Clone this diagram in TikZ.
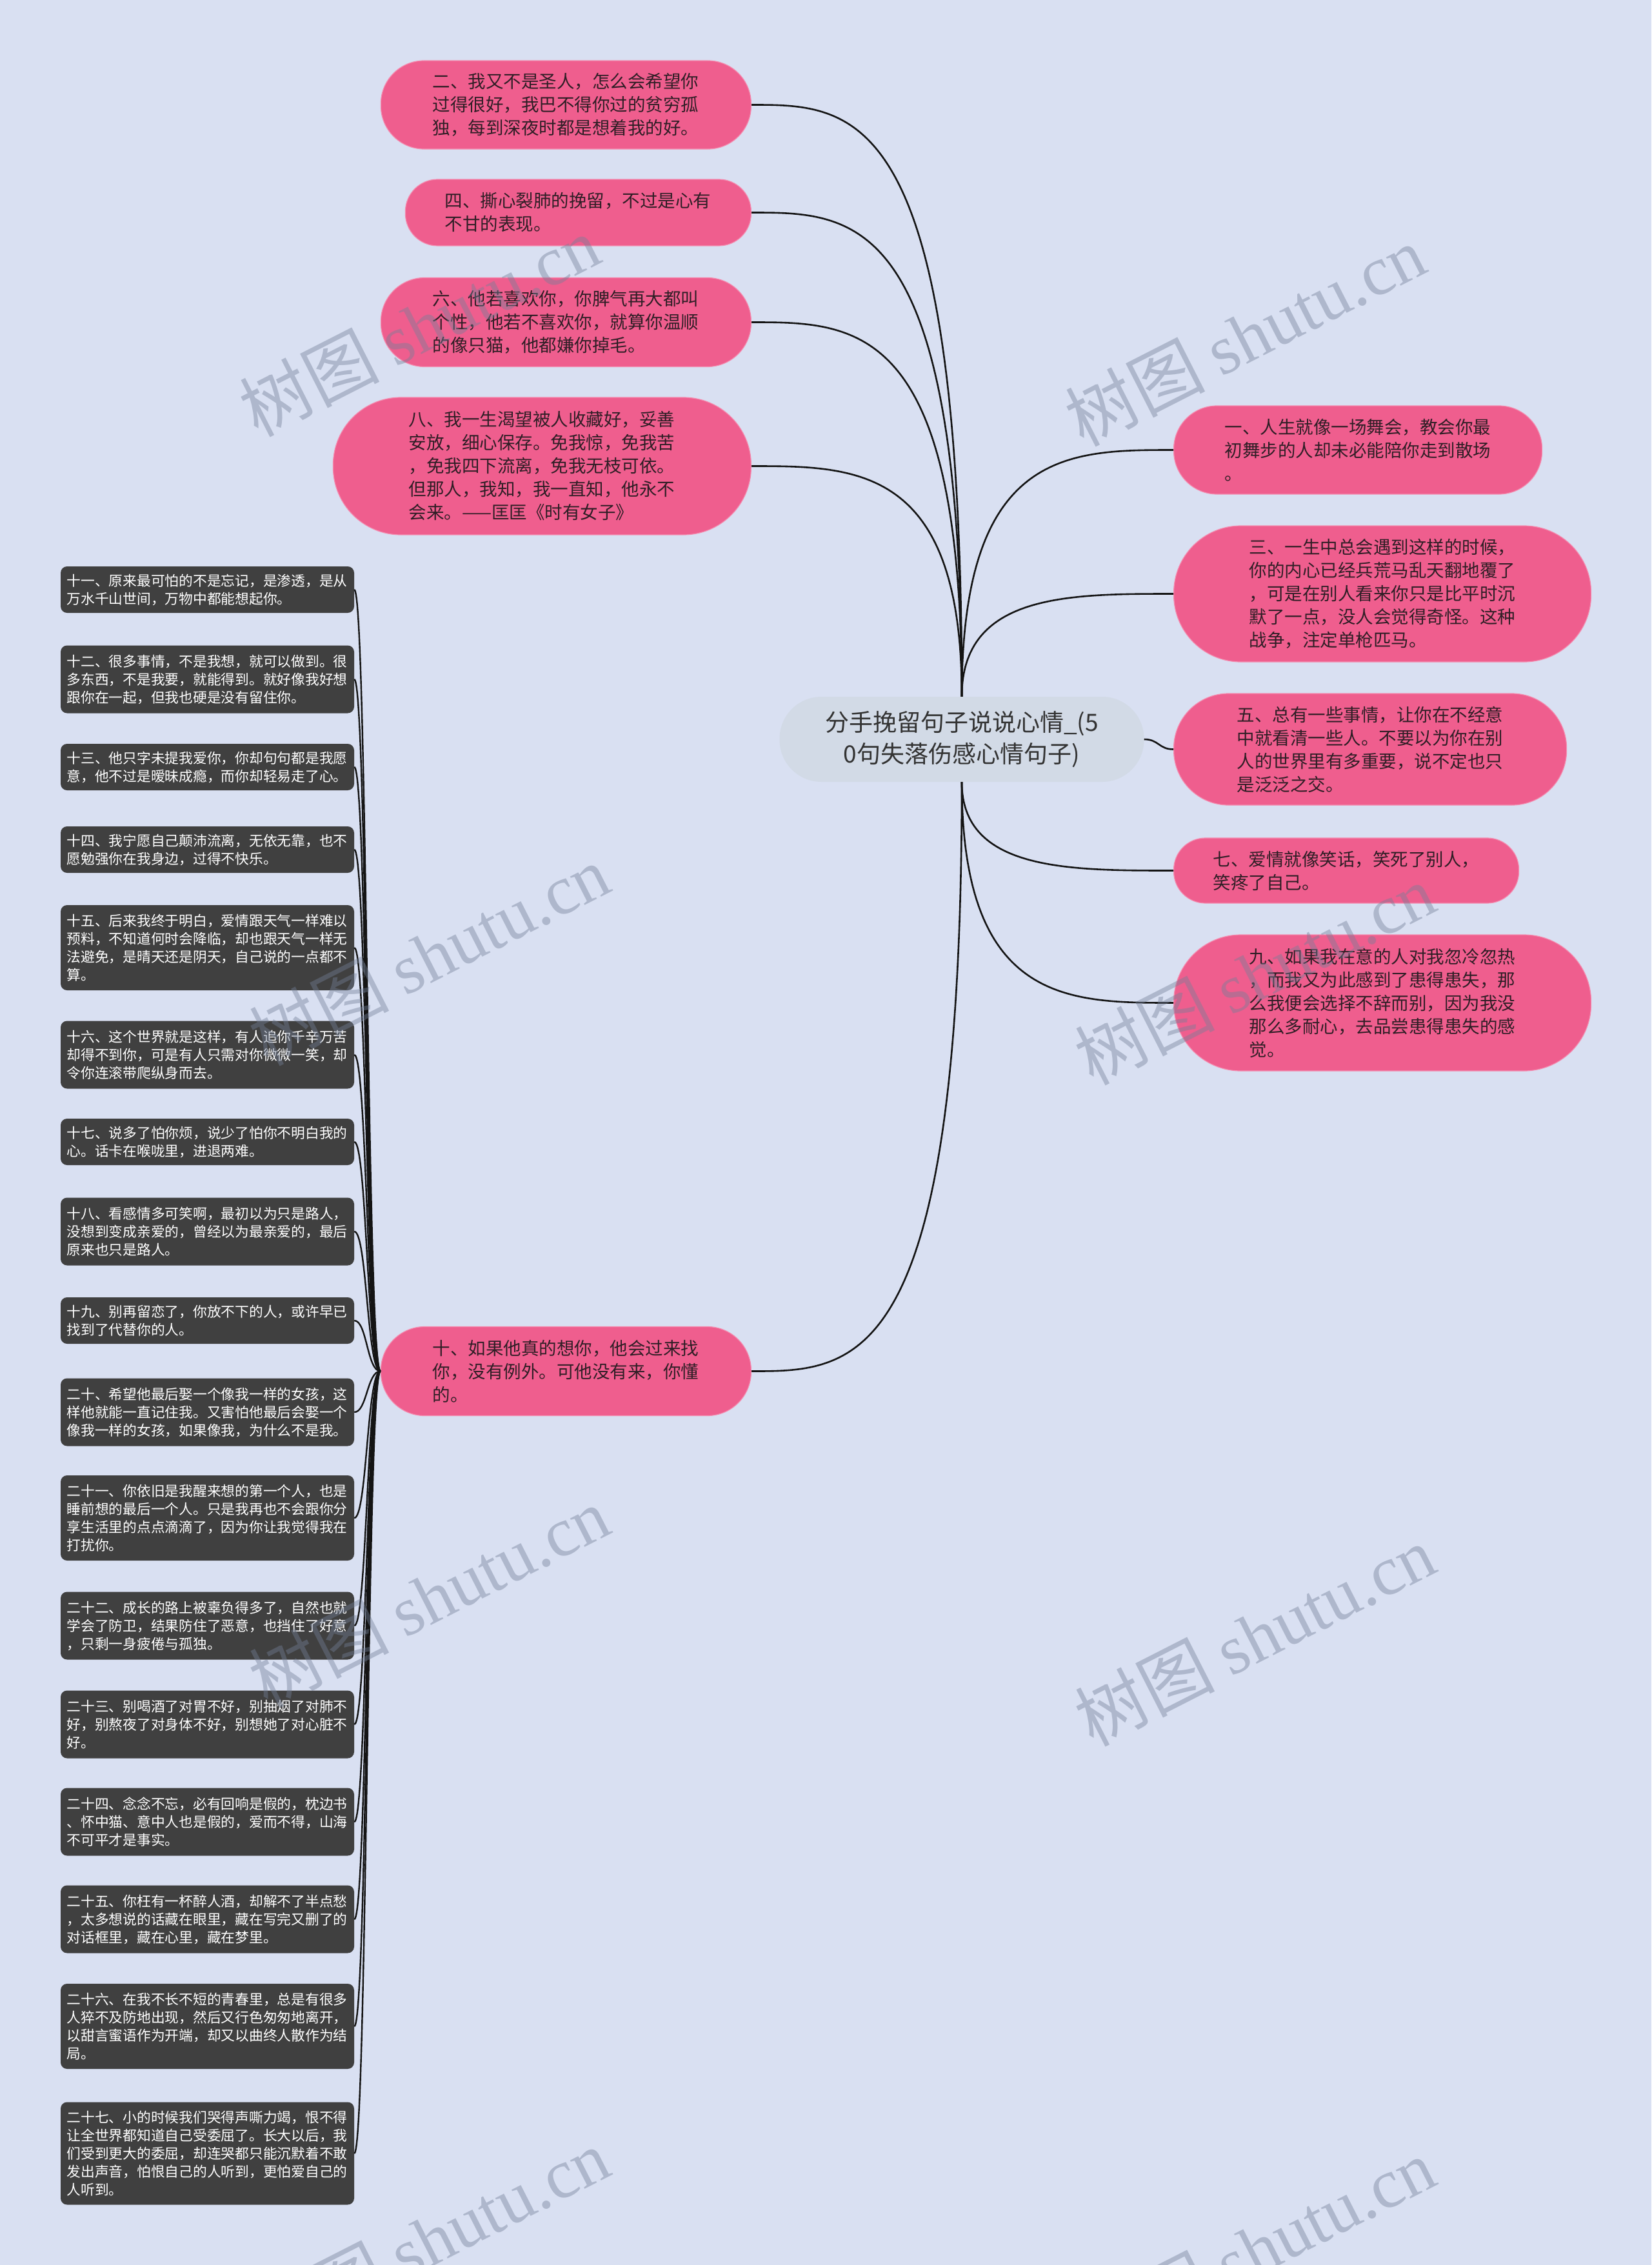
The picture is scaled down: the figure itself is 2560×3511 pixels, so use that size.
\documentclass[tikz,border=0pt]{standalone}
\usepackage{fontspec}
\setmainfont{Noto Sans CJK SC}
\newfontfamily\wmlat{Liberation Serif}
\usetikzlibrary{calc}
\definecolor{bg}{RGB}{217,224,242}
\definecolor{pinkf}{RGB}{239,94,142}
\definecolor{pinkd}{RGB}{244,140,175}
\definecolor{ctrf}{RGB}{210,218,230}
\definecolor{darkf}{RGB}{64,64,64}
\definecolor{ptext}{RGB}{48,30,38}
\definecolor{ctext}{RGB}{51,51,51}
\definecolor{wmc}{RGB}{115,128,152}
\tikzset{
  pk/.style 2 args={fill=pinkf, draw=pinkd, line width=1.2pt, minimum height=#1,
    rounded corners=#2, text=ptext, font=\fontsize{27.5}{36}\selectfont,
    align=left, text width=413pt, inner sep=0pt},
  ctr/.style={fill=ctrf, minimum width=565pt, minimum height=132pt, rounded corners=65pt,
    font=\fontsize{37}{49}\selectfont, text=ctext, align=center, inner sep=0pt},
  dk/.style={fill=darkf, text=white, rounded corners=10pt, text width=436pt,
    inner xsep=9.5pt, inner ysep=0pt, minimum height=#1,
    font=\fontsize{21.75}{28}\selectfont, align=left},
  conn/.style={draw=black!92, line width=2.6pt},
  wm/.style={text=wmc, opacity=0.42, rotate=27, font=\fontsize{108}{108}\selectfont, inner sep=0pt}
}
\begin{document}
\begin{tikzpicture}[x=1pt,y=-1pt]
\useasboundingbox (0,0) rectangle (2560,3511);
\fill[bg] (0,0) rectangle (2560,3511);

% center
\node[ctr] (c) at (1491,1146) {分手挽留句子说说心情\_(5\\0句失落伤感心情句子)};

% left pink nodes
\node[pk={137pt}{67pt}, minimum width=574pt, anchor=east] (n2) at (1165,162.5) {二、我又不是圣人，怎么会希望你\\过得很好，我巴不得你过的贫穷孤\\独，每到深夜时都是想着我的好。};
\node[pk={103pt}{50pt}, minimum width=536pt, anchor=east] (n4) at (1165,329.5) {四、撕心裂肺的挽留，不过是心有\\不甘的表现。};
\node[pk={138pt}{68pt}, minimum width=574pt, anchor=east] (n6) at (1165,499.5) {六、他若喜欢你，你脾气再大都叫\\个性，他若不喜欢你，就算你温顺\\的像只猫，他都嫌你掉毛。};
\node[pk={213pt}{105pt}, minimum width=648pt, anchor=east] (n8) at (1165,722.5) {八、我一生渴望被人收藏好，妥善\\安放，细心保存。免我惊，免我苦\\，免我四下流离，免我无枝可依。\\但那人，我知，我一直知，他永不\\会来。——匡匡《时有女子》};
\node[pk={138pt}{68pt}, minimum width=574pt, anchor=east] (n10) at (1165,2125.5) {十、如果他真的想你，他会过来找\\你，没有例外。可他没有来，你懂\\的。};

% right pink nodes
\node[pk={137pt}{67pt}, minimum width=571pt, anchor=west] (n1) at (1819,697.5) {一、人生就像一场舞会，教会你最\\初舞步的人却未必能陪你走到散场\\。};
\node[pk={211pt}{104pt}, minimum width=647pt, anchor=west] (n3) at (1819,920.5) {三、一生中总会遇到这样的时候，\\你的内心已经兵荒马乱天翻地覆了\\，可是在别人看来你只是比平时沉\\默了一点，没人会觉得奇怪。这种\\战争，注定单枪匹马。};
\node[pk={173pt}{85pt}, minimum width=609pt, anchor=west] (n5) at (1819,1161.5) {五、总有一些事情，让你在不经意\\中就看清一些人。不要以为你在别\\人的世界里有多重要，说不定也只\\是泛泛之交。};
\node[pk={101pt}{49pt}, minimum width=535pt, anchor=west] (n7) at (1819,1349.5) {七、爱情就像笑话，笑死了别人，\\笑疼了自己。};
\node[pk={211pt}{104pt}, minimum width=647pt, anchor=west] (n9) at (1819,1554.5) {九、如果我在意的人对我忽冷忽热\\，而我又为此感到了患得患失，那\\么我便会选择不辞而别，因为我没\\那么多耐心，去品尝患得患失的感\\觉。};

% dark boxes
\node[dk=72pt] (d11) at (321.5,914) {十一、原来最可怕的不是忘记，是渗透，是从\\万水千山世间，万物中都能想起你。};
\node[dk=105pt] (d12) at (321.5,1053) {十二、很多事情，不是我想，就可以做到。很\\多东西，不是我要，就能得到。就好像我好想\\跟你在一起，但我也硬是没有留住你。};
\node[dk=72pt] (d13) at (321.5,1189) {十三、他只字未提我爱你，你却句句都是我愿\\意，他不过是暧昧成瘾，而你却轻易走了心。};
\node[dk=72pt] (d14) at (321.5,1317) {十四、我宁愿自己颠沛流离，无依无靠，也不\\愿勉强你在我身边，过得不快乐。};
\node[dk=132pt] (d15) at (321.5,1469) {十五、后来我终于明白，爱情跟天气一样难以\\预料，不知道何时会降临，却也跟天气一样无\\法避免，是晴天还是阴天，自己说的一点都不\\算。};
\node[dk=105pt] (d16) at (321.5,1635) {十六、这个世界就是这样，有人追你千辛万苦\\却得不到你，可是有人只需对你微微一笑，却\\令你连滚带爬纵身而去。};
\node[dk=72pt] (d17) at (321.5,1770) {十七、说多了怕你烦，说少了怕你不明白我的\\心。话卡在喉咙里，进退两难。};
\node[dk=105pt] (d18) at (321.5,1909) {十八、看感情多可笑啊，最初以为只是路人，\\没想到变成亲爱的，曾经以为最亲爱的，最后\\原来也只是路人。};
\node[dk=72pt] (d19) at (321.5,2047) {十九、别再留恋了，你放不下的人，或许早已\\找到了代替你的人。};
\node[dk=105pt] (d20) at (321.5,2189) {二十、希望他最后娶一个像我一样的女孩，这\\样他就能一直记住我。又害怕他最后会娶一个\\像我一样的女孩，如果像我，为什么不是我。};
\node[dk=132pt] (d21) at (321.5,2353) {二十一、你依旧是我醒来想的第一个人，也是\\睡前想的最后一个人。只是我再也不会跟你分\\享生活里的点点滴滴了，因为你让我觉得我在\\打扰你。};
\node[dk=105pt] (d22) at (321.5,2520) {二十二、成长的路上被辜负得多了，自然也就\\学会了防卫，结果防住了恶意，也挡住了好意\\，只剩一身疲倦与孤独。};
\node[dk=105pt] (d23) at (321.5,2673) {二十三、别喝酒了对胃不好，别抽烟了对肺不\\好，别熬夜了对身体不好，别想她了对心脏不\\好。};
\node[dk=105pt] (d24) at (321.5,2824) {二十四、念念不忘，必有回响是假的，枕边书\\、怀中猫、意中人也是假的，爱而不得，山海\\不可平才是事实。};
\node[dk=105pt] (d25) at (321.5,2975) {二十五、你枉有一杯醉人酒，却解不了半点愁\\，太多想说的话藏在眼里，藏在写完又删了的\\对话框里，藏在心里，藏在梦里。};
\node[dk=132pt] (d26) at (321.5,3141) {二十六、在我不长不短的青春里，总是有很多\\人猝不及防地出现，然后又行色匆匆地离开，\\以甜言蜜语作为开端，却又以曲终人散作为结\\局。};
\node[dk=159pt] (d27) at (321.5,3338) {二十七、小的时候我们哭得声嘶力竭，恨不得\\让全世界都知道自己受委屈了。长大以后，我\\们受到更大的委屈，却连哭都只能沉默着不敢\\发出声音，怕恨自己的人听到，更怕爱自己的\\人听到。};

% connectors from center
\foreach \n in {n2,n4,n6,n8}
  \draw[conn] (c.north) .. controls (c.north |- \n.east) and ($(c.north |- \n.east)!0.5!(\n.east)$) .. (\n.east);
\foreach \n in {n1,n3}
  \draw[conn] (c.north) .. controls (c.north |- \n.west) and ($(c.north |- \n.west)!0.5!(\n.west)$) .. (\n.west);
\foreach \n in {n7,n9}
  \draw[conn] (c.south) .. controls (c.south |- \n.west) and ($(c.south |- \n.west)!0.5!(\n.west)$) .. (\n.west);
\draw[conn] (c.south) .. controls (c.south |- n10.east) and ($(c.south |- n10.east)!0.5!(n10.east)$) .. (n10.east);
\draw[conn] (c.east) .. controls ($(c.east)!0.5!(c.east -| n5.west)$) and ($(n5.west)!0.5!(c.east |- n5.west)$) .. (n5.west);

% left column connectors
\coordinate (trk) at (569,2125.5);
\foreach \i in {11,...,27}
  \draw[conn, line width=2.4pt] (n10.west) .. controls (trk) and (trk |- d\i.east) .. (d\i.east);

% watermarks
\foreach \p in {(650,505),(665,1480),(665,2475),(665,3470),(1930,520),(1945,1510),(1945,2535),(1945,3485)}
  \node[wm] at \p {树图 {\wmlat shutu.cn}};
\end{tikzpicture}
\end{document}
